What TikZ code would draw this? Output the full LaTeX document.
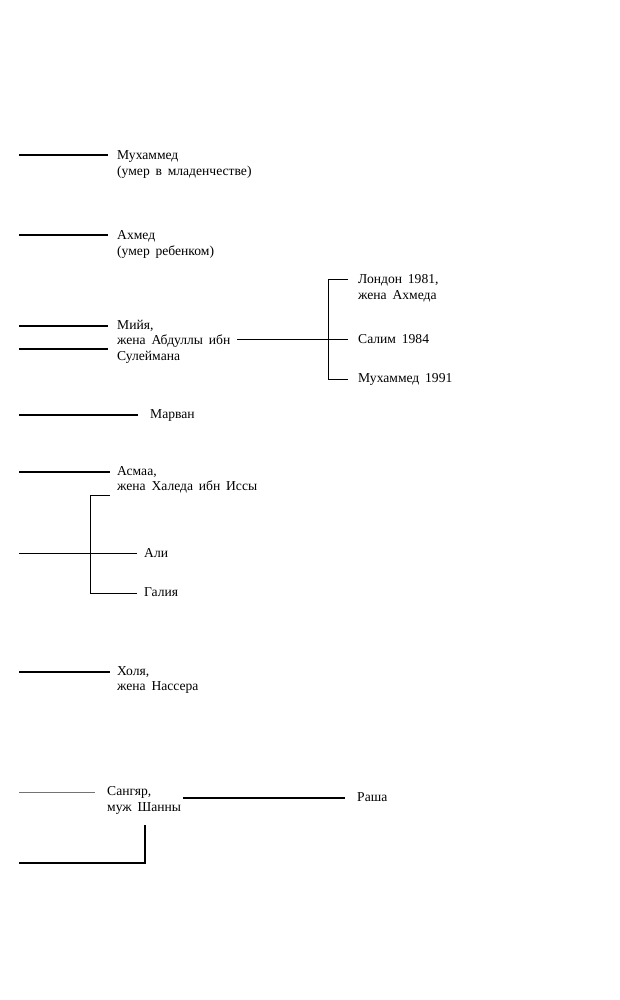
\documentclass[tikz,border=0pt]{standalone}
\usepackage{fontspec}
\setmainfont[WordSpace=1.7]{Liberation Serif}
\begin{document}
\begin{tikzpicture}[x=1pt,y=-1pt,
  lbl/.style={anchor=base west,inner sep=0pt,align=left,font=\fontsize{13.6}{15.7}\selectfont},
  thickln/.style={line width=2pt,black},
  thinln/.style={line width=0.9pt,black},
  greyln/.style={line width=0.8pt,black!55},
  midln/.style={line width=1.2pt,black}]
\useasboundingbox (0,0) rectangle (619,1000);
% labels (positioned at baseline of last line)
\node[lbl] (muh) at (117,175.7) {Мухаммед\\(умер в младенчестве)};
\node[lbl] (ahm) at (117,255.2) {Ахмед\\(умер ребенком)};
\node[lbl] (miya) at (117,360.4) {Мийя,\\жена Абдуллы ибн\\Сулеймана};
\node[lbl] (lon) at (358,299.2) {Лондон 1981,\\жена Ахмеда};
\node[lbl] (sal) at (358,343) {Салим 1984};
\node[lbl] (muh2) at (358,382) {Мухаммед 1991};
\node[lbl] (mar) at (150,418.5) {Марван};
\node[lbl] (asm) at (117,490.7) {Асмаа,\\жена Халеда ибн Иссы};
\node[lbl] (ali) at (144,557) {Али};
\node[lbl] (gal) at (144,596) {Галия};
\node[lbl] (hol) at (117,690.7) {Холя,\\жена Нассера};
\node[lbl] (san) at (107,811.2) {Сангяр,\\муж Шанны};
\node[lbl] (ras) at (357,801.5) {Раша};
% coordinates
\coordinate (a1) at (19,155);
\coordinate (a1e) at (108,155);
\coordinate (a2) at (19,235);
\coordinate (a2e) at (108,235);
\coordinate (a3) at (19,326);
\coordinate (a3e) at (108,326);
\coordinate (a4) at (19,349);
\coordinate (a4e) at (108,349);
\coordinate (m1) at (237,339);
\coordinate (br1) at (328,279);
\coordinate (br2) at (328,379);
\coordinate (br1e) at (348,279);
\coordinate (br2e) at (348,379);
\coordinate (m2) at (348,339);
\coordinate (a5) at (19,415);
\coordinate (a5e) at (138,415);
\coordinate (a6) at (19,472);
\coordinate (a6e) at (110,472);
\coordinate (b1) at (90,495);
\coordinate (b1e) at (110,495);
\coordinate (b2) at (90,593);
\coordinate (b2e) at (137,593);
\coordinate (a7) at (19,553);
\coordinate (a7e) at (137,553);
\coordinate (a8) at (19,672);
\coordinate (a8e) at (110,672);
\coordinate (a9) at (19,792);
\coordinate (a9e) at (95,792);
\coordinate (s1) at (183,798);
\coordinate (s1e) at (345,798);
\coordinate (c1) at (145,825);
\coordinate (c2) at (145,863);
\coordinate (c3) at (19,863);
% lines
\draw[thickln] (a1) -- (a1e);
\draw[thickln] (a2) -- (a2e);
\draw[thickln] (a3) -- (a3e);
\draw[thickln] (a4) -- (a4e);
\draw[thinln] (m1) -- (m2);
\draw[thinln] (br1e) -- (br1) -- (br2) -- (br2e);
\draw[thickln] (a5) -- (a5e);
\draw[thickln] (a6) -- (a6e);
\draw[thinln] (b1e) -- (b1) -- (b2) -- (b2e);
\draw[thinln] (a7) -- (a7e);
\draw[thickln] (a8) -- (a8e);
\draw[greyln] (a9) -- (a9e);
\draw[midln] (s1) -- (s1e);
\draw[thickln] (c1) -- (c2) -- (c3);
\end{tikzpicture}
\end{document}
